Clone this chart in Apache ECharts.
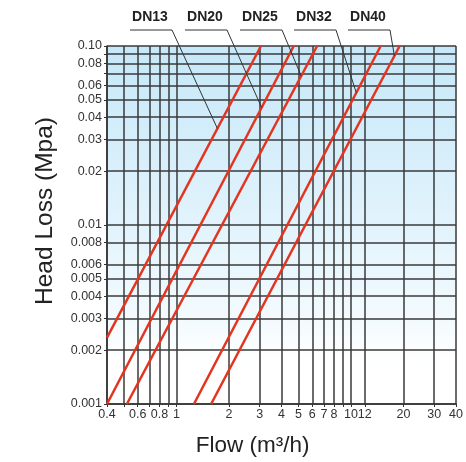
<!DOCTYPE html>
<html>
<head>
<meta charset="utf-8">
<script src="https://cdn.jsdelivr.net/npm/echarts@6/dist/echarts.min.js"></script>
<style>
  html, body { margin: 0; padding: 0; background: #fff; }
  #chart { width: 466px; height: 462px; }
</style>
</head>
<body>
<div id="chart"></div>
<script>
// grid lines and tick labels
const xGrid = [0.4, 0.5, 0.6, 0.7, 0.8, 0.9, 1, 2, 3, 4, 5, 6, 7, 8, 9, 10, 12, 20, 30, 40];
const xLabels = [0.4, 0.6, 0.8, 1, 2, 3, 4, 5, 6, 7, 8, 10, 12, 20, 30, 40];
const yGrid = [0.001, 0.002, 0.003, 0.004, 0.005, 0.006, 0.008, 0.01, 0.02, 0.03, 0.04, 0.05, 0.06, 0.07, 0.08, 0.09, 0.1];
const yLabels = [0.001, 0.002, 0.003, 0.004, 0.005, 0.006, 0.008, 0.01, 0.02, 0.03, 0.04, 0.05, 0.06, 0.08, 0.1];

// curves: [flow m3/h, head loss MPa]
const names = ['DN13', 'DN20', 'DN25', 'DN32', 'DN40'];
const dn13 = [[0.4, 0.00235], [3.05, 0.1]];
const dn20 = [[0.4, 0.001], [4.7, 0.1]];
const dn25 = [[0.52, 0.001], [6.4, 0.1]];
const dn32 = [[1.26, 0.001], [14.8, 0.1]];
const dn40 = [[1.58, 0.001], [19.0, 0.1]];
// head loss where each label's leader line meets its curve
const leaderAt = [0.0346, 0.0453, 0.068, 0.0548, 0.088];

const curves = [dn13, dn20, dn25, dn32, dn40];
const chart = echarts.init(document.getElementById('chart'));

const fmt = v => {
  const n = Number(v.toPrecision(3));
  return n === 0.1 ? '0.10' : String(n);
};

chart.setOption({
  animation: false,
  grid: {
    left: 107, top: 46, right: 7, bottom: 56,
    show: true,
    borderWidth: 0,
    backgroundColor: new echarts.graphic.LinearGradient(0, 0, 0, 1, [
      { offset: 0, color: '#c6e8f9' },
      { offset: 0.5, color: '#e2f3fc' },
      { offset: 0.78, color: '#f4fbfe' },
      { offset: 0.88, color: '#ffffff' },
      { offset: 1, color: '#ffffff' }
    ])
  },
  xAxis: {
    type: 'log',
    logBase: 10,
    min: 0.4,
    max: 40,
    name: 'Flow (m³/h)',
    nameLocation: 'middle',
    nameGap: 30,
    nameTextStyle: { fontSize: 22.5, color: '#222', fontFamily: 'Liberation Sans', padding: [0, 58, 0, 0] },
    axisLine: { show: true, lineStyle: { color: '#333', width: 1.5 } },
    axisTick: { show: true, customValues: xGrid, length: 3, lineStyle: { color: '#333' } },
    axisLabel: {
      customValues: xLabels, formatter: fmt, margin: 4,
      fontSize: 12.5, color: '#333', fontFamily: 'Liberation Sans'
    },
    splitLine: { show: true, lineStyle: { color: '#3a3a3a', width: 1.5 } }
  },
  yAxis: {
    type: 'log',
    logBase: 10,
    min: 0.001,
    max: 0.1,
    name: 'Head Loss (Mpa)',
    nameLocation: 'middle',
    nameGap: 49,
    nameTextStyle: { fontSize: 24.5, color: '#222', fontFamily: 'Liberation Sans', padding: [0, 0, 0, 28] },
    axisLine: { show: true, lineStyle: { color: '#333', width: 1.5 } },
    axisTick: { show: true, customValues: yGrid, length: 3, lineStyle: { color: '#333' } },
    axisLabel: {
      customValues: yLabels, formatter: fmt, margin: 5,
      fontSize: 12.5, color: '#333', fontFamily: 'Liberation Sans'
    },
    splitLine: { show: true, lineStyle: { color: '#3a3a3a', width: 1.5 } }
  },
  series: curves.map((d, i) => ({
    name: names[i],
    type: 'line',
    data: d,
    symbol: 'none',
    clip: true,
    lineStyle: { color: '#e3341f', width: 2.5 }
  }))
});

// labels with leader lines, anchored on the curves through the axes
const labelX = [150, 205, 260, 314, 368];
const graphics = [];
curves.forEach((d, i) => {
  const [p0, p1] = d;
  const t = (Math.log(leaderAt[i]) - Math.log(p0[1])) / (Math.log(p1[1]) - Math.log(p0[1]));
  const fx = Math.exp(Math.log(p0[0]) + t * (Math.log(p1[0]) - Math.log(p0[0])));
  const pt = chart.convertToPixel({ gridIndex: 0 }, [fx, leaderAt[i]]);
  const cx = labelX[i];
  graphics.push({
    type: 'text',
    x: cx, y: 17,
    style: {
      text: names[i], fill: '#222', font: 'bold 14px "Liberation Sans"',
      align: 'center', verticalAlign: 'middle'
    }
  });
  graphics.push({
    type: 'polyline',
    shape: { points: [[cx - 20, 30], [cx + 22, 30], pt] },
    style: { stroke: '#333', lineWidth: 1, fill: null },
    z: 10
  });
});
chart.setOption({ graphic: graphics });
</script>
</body>
</html>
